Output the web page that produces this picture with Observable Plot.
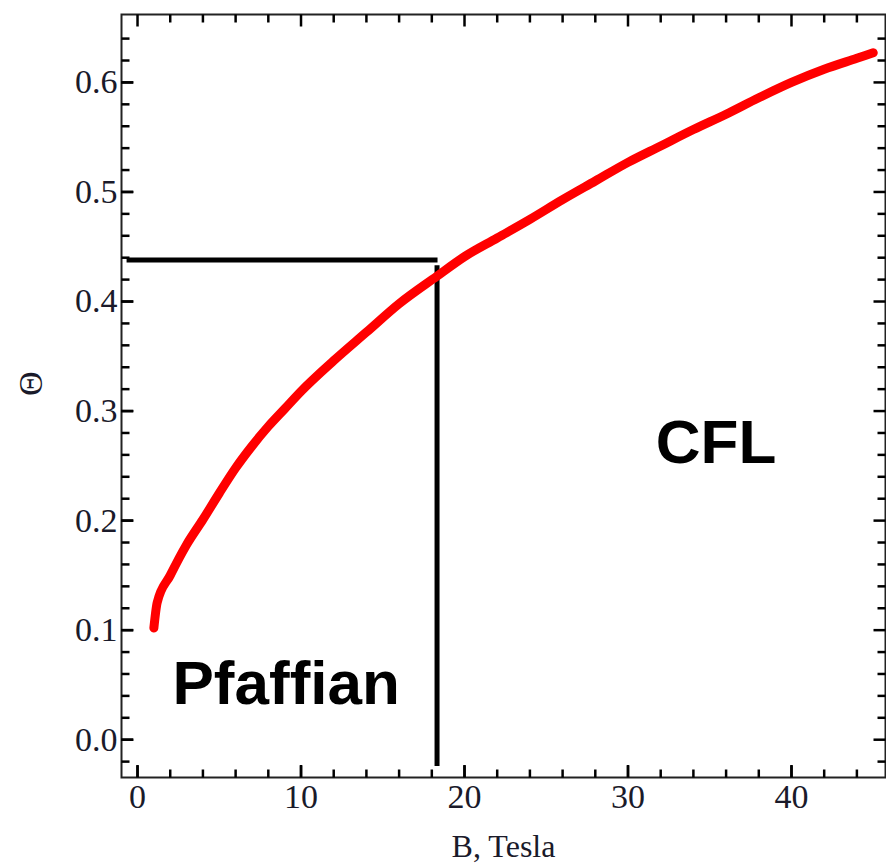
<!DOCTYPE html>
<html>
<head>
<meta charset="utf-8">
<script src="https://cdn.jsdelivr.net/npm/d3@7"></script>
<script src="https://cdn.jsdelivr.net/npm/@observablehq/plot@0.6"></script>
<style>
  html, body { margin: 0; padding: 0; background: #fff; }
  svg.chart { font-family: 'Liberation Serif', 'Times New Roman', serif; font-size: 34px; }
</style>
</head>
<body>
<div id="chart"></div>
<script>
// Curve data: B (Tesla) vs Theta
const fieldB = [1.0, 1.2, 2.0, 3.0, 4.0, 5.0, 6.0, 7.0, 8.0, 9.0, 10.0, 12.0, 14.0, 16.0, 18.3, 20.0, 22.0, 24.0, 26.0, 28.0, 30.0, 32.0, 34.0, 36.0, 38.0, 40.0, 42.0, 44.0, 45.0];
const thetaVals = [0.102, 0.125, 0.150, 0.178, 0.201, 0.225, 0.248, 0.268, 0.286, 0.302, 0.318, 0.346, 0.372, 0.398, 0.423, 0.441, 0.458, 0.475, 0.493, 0.510, 0.527, 0.542, 0.557, 0.571, 0.586, 0.600, 0.612, 0.622, 0.627];

// Phase-boundary guide lines
const hLineB = [-0.67, 18.35];
const hLineTheta = 0.438;
const vLineB = 18.32;
const vLineTheta = [0.433, -0.024];

// Ticks
const xMajor = [0, 10, 20, 30, 40];
const xMinor = [2, 4, 6, 8, 12, 14, 16, 18, 22, 24, 26, 28, 32, 34, 36, 38, 42, 44];
const yMajor = [0.0, 0.1, 0.2, 0.3, 0.4, 0.5, 0.6];
const yMinor = [-0.02, 0.02, 0.04, 0.06, 0.08, 0.12, 0.14, 0.16, 0.18, 0.22, 0.24, 0.26, 0.28, 0.32, 0.34, 0.36, 0.38, 0.42, 0.44, 0.46, 0.48, 0.52, 0.54, 0.56, 0.58, 0.62, 0.64];

// Labels
const xLabel = "B, Tesla";
const yLabel = "Θ";
const regionLabels = [
  {text: "Pfaffian", b: 2.14, t: 0.033},
  {text: "CFL", b: 31.7, t: 0.253}
];

const xDomain = [-0.98, 45.75];
const yDomain = [-0.0345, 0.662];

const curve = fieldB.map((b, i) => ({b, t: thetaVals[i]}));
const hLine = hLineB.map(b => ({b, t: hLineTheta}));
const vLine = vLineTheta.map(t => ({b: vLineB, t}));

// tick lengths expressed via the scales (pixels -> data units)
const W = 886, H = 866, mL = 121, mR = 1, mT = 14, mB = 89;
const pxX = (xDomain[1] - xDomain[0]) / (W - mL - mR);
const pxY = (yDomain[1] - yDomain[0]) / (H - mT - mB);
const tickColor = "black";

const tickSegs = [];
for (const [vals, len] of [[xMajor, 12], [xMinor, 8]]) {
  for (const v of vals) {
    tickSegs.push({x1: v, x2: v, y1: yDomain[0], y2: yDomain[0] + len * pxY});
    tickSegs.push({x1: v, x2: v, y1: yDomain[1], y2: yDomain[1] - len * pxY});
  }
}
for (const [vals, len] of [[yMajor, 12], [yMinor, 8]]) {
  for (const v of vals) {
    tickSegs.push({y1: v, y2: v, x1: xDomain[0], x2: xDomain[0] + len * pxX});
    tickSegs.push({y1: v, y2: v, x1: xDomain[1], x2: xDomain[1] - len * pxX});
  }
}

const chart = Plot.plot({
  width: W,
  height: H,
  marginLeft: mL,
  marginRight: mR,
  marginTop: mT,
  marginBottom: mB,
  className: "chart",
  x: {domain: xDomain},
  y: {domain: yDomain},
  marks: [
    Plot.frame({stroke: "#222", strokeWidth: 2, fill: "none"}),
    Plot.link(tickSegs, {x1: "x1", x2: "x2", y1: "y1", y2: "y2", stroke: tickColor, strokeWidth: 2.5}),
    // inward major ticks also via the axis marks
    Plot.axisX(xMajor, {anchor: "bottom", tickSize: -12, tickFormat: () => "", label: null, stroke: tickColor, strokeWidth: 2.5}),
    Plot.axisY(yMajor, {anchor: "left", tickSize: -12, tickFormat: () => "", label: null, stroke: tickColor, strokeWidth: 2.5}),
    // tick labels
    Plot.axisX(xMajor, {anchor: "bottom", tickSize: 0, tickPadding: 6, tickFormat: d3.format("d"), label: null, fill: "#1a1a2a", fontSize: 34}),
    Plot.axisY(yMajor, {anchor: "left", tickSize: 0, tickPadding: 4, tickFormat: d3.format(".1f"), label: null, fill: "#1a1a2a", fontSize: 34}),
    // axis titles
    Plot.text([xLabel], {frameAnchor: "bottom", dy: 79, lineAnchor: "bottom", text: d => d, fontSize: 32, fill: "#1a1a2a"}),
    Plot.text([yLabel], {frameAnchor: "left", dx: -90, rotate: -90, text: d => d, fontSize: 34, fill: "#1a1a2a"}),
    // guide lines
    Plot.line(hLine, {x: "b", y: "t", stroke: "black", strokeWidth: 5, strokeLinecap: "butt"}),
    Plot.line(vLine, {x: "b", y: "t", stroke: "black", strokeWidth: 5, strokeLinecap: "butt"}),
    // curve
    Plot.line(curve, {x: "b", y: "t", stroke: "#ff0000", strokeWidth: 9, strokeLinecap: "round", strokeLinejoin: "round", curve: "monotone-x"}),
    // region labels
    Plot.text(regionLabels, {x: "b", y: "t", text: "text", textAnchor: "start", lineAnchor: "bottom", fontSize: 62, fontWeight: "bold", fontFamily: "'Liberation Sans', Arial, sans-serif", fill: "black"})
  ]
});

document.getElementById("chart").appendChild(chart);
</script>
</body>
</html>
